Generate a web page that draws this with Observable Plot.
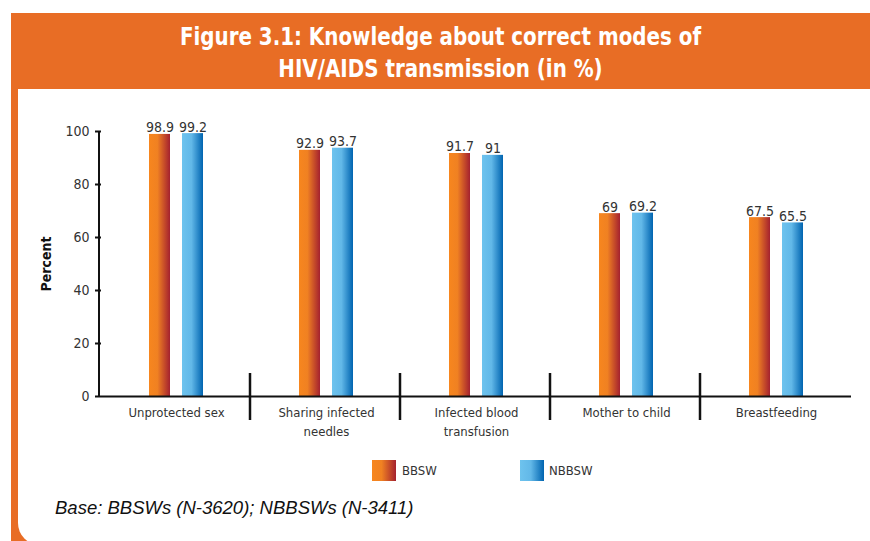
<!DOCTYPE html>
<html><head><meta charset="utf-8">
<script src="https://cdn.jsdelivr.net/npm/d3@7"></script>
<script src="https://cdn.jsdelivr.net/npm/@observablehq/plot@0.6"></script>
<style>
body{margin:0;background:#fff;}
#wrap{position:relative;width:870px;height:541px;overflow:hidden;font-family:"DejaVu Sans Condensed","Liberation Sans Narrow",sans-serif;}
#frame{position:absolute;left:11px;top:13px;width:900px;height:600px;background:#E86D25;}
#panel{position:absolute;left:18px;top:89px;width:900px;height:456px;background:#fff;border-bottom-left-radius:22px;}
#title{position:absolute;left:11px;top:13px;width:859px;height:76px;padding-top:8px;box-sizing:border-box;text-align:center;color:#fff;font-weight:bold;font-size:24px;line-height:32px;transform:scaleX(0.92);transform-origin:50% 50%;}
#chart{position:absolute;left:0;top:89px;}
#yline{position:absolute;background:#111;width:2px;}
#legend{position:absolute;top:460px;left:0;width:870px;height:22px;font-size:13px;color:#333;}
.sw{position:absolute;top:0;width:24px;height:21px;}
.lt{position:absolute;top:3px;}
#caption{position:absolute;left:55px;top:497px;font-family:"Liberation Sans",Arial,sans-serif;font-style:italic;font-size:18.5px;color:#111;}
svg [aria-label="y-axis label"] text{font-weight:bold;fill:#111;}
</style>
</head><body>
<div id="wrap">
  <div id="frame"></div>
  <div id="panel"></div>
  <div id="title">Figure 3.1: Knowledge about correct modes of<br>HIV/AIDS transmission (in %)</div>
  <div id="chart"></div>
  <div id="yline"></div>
  <div id="legend">
    <div class="sw" style="left:372px;background:linear-gradient(to right,#F7861E 0%,#F08122 40%,#A4212F 100%);"></div>
    <div class="lt" style="left:402px;">BBSW</div>
    <div class="sw" style="left:520px;background:linear-gradient(to right,#6EC3EE 0%,#62B8E8 45%,#0064B0 100%);"></div>
    <div class="lt" style="left:549px;">NBBSW</div>
  </div>
  <div id="caption">Base: BBSWs (N-3620); NBBSWs (N-3411)</div>
</div>
<script>
const categories = ["Unprotected sex","Sharing infected needles","Infected blood transfusion","Mother to child","Breastfeeding"];
const tickLabels = ["Unprotected sex","Sharing infected\nneedles","Infected blood\ntransfusion","Mother to child","Breastfeeding"];
const series = ["BBSW","NBBSW"];
const bbsw = [98.9, 92.9, 91.7, 69, 67.5];
const nbbsw = [99.2, 93.7, 91, 69.2, 65.5];
const yTicks = [0, 20, 40, 60, 80, 100];

const rows = categories.flatMap((c, i) => [
  {category: c, series: series[0], value: bbsw[i]},
  {category: c, series: series[1], value: nbbsw[i]}
]);

const FONT = '"DejaVu Sans Condensed","Liberation Sans Narrow",sans-serif';
const W = 870, H = 360, mL = 99, mR = 18, mT = 42, mB = 53;

const plot = Plot.plot({
  width: W, height: H,
  marginLeft: mL, marginRight: mR, marginTop: mT, marginBottom: mB,
  style: {background: "transparent", fontFamily: FONT, fontSize: "14px", color: "#333", overflow: "visible"},
  fx: {domain: categories, padding: 0, label: null, axis: null},
  x: {domain: series, paddingInner: 0.353, paddingOuter: 1.39, axis: null},
  y: {domain: [0, 100], axis: null},
  color: {domain: series, range: ["url(#gradBBSW)", "url(#gradNBBSW)"]},
  marks: [
    Plot.barY(rows, {fx: "category", x: "series", y: "value", fill: "series"}),
    Plot.text(rows, {fx: "category", x: "series", y: "value", text: d => String(d.value), lineAnchor: "bottom", dy: -2, fill: "#333", fontSize: 14}),
    Plot.ruleY([0], {stroke: "#111", strokeWidth: 2}),
    Plot.axisY({ticks: yTicks, tickSize: 6, tickPadding: 6, stroke: "#111", strokeWidth: 2, fill: "#333", fontSize: 14,
      label: "Percent", labelAnchor: "center", labelArrow: "none", labelOffset: 60}),
    Plot.axisFx({anchor: "bottom", tickSize: 0, tickPadding: 8, fill: "#333", fontSize: 13, label: null, lineHeight: 1.4,
      tickFormat: c => tickLabels[categories.indexOf(c)]})
  ]
});

const svg = d3.select(plot);
const defs = svg.insert("defs", ":first-child");
const g1 = defs.append("linearGradient").attr("id", "gradBBSW").attr("x1", "0").attr("x2", "1").attr("y1", "0").attr("y2", "0");
[["0%", "#F7861E"], ["40%", "#F08122"], ["100%", "#A4212F"]].forEach(([o, c]) => g1.append("stop").attr("offset", o).attr("stop-color", c));
const g2 = defs.append("linearGradient").attr("id", "gradNBBSW").attr("x1", "0").attr("x2", "1").attr("y1", "0").attr("y2", "0");
[["0%", "#6EC3EE"], ["45%", "#62B8E8"], ["100%", "#0064B0"]].forEach(([o, c]) => g2.append("stop").attr("offset", o).attr("stop-color", c));

// axis line and group separators, positioned through Plot's own scales
const fxS = plot.scale("fx"), yS = plot.scale("y");
const y0 = yS.apply(0), y100 = yS.apply(100);
const xLeft = fxS.range[0];
svg.append("rect").attr("x", xLeft - 1).attr("y", y100).attr("width", 2).attr("height", y0 - y100 + 1).attr("fill", "#111");
const lines = svg.append("g").attr("stroke", "#111").attr("fill", "none");
categories.slice(1).forEach(c => {
  const x = fxS.apply(c) - 1;
  lines.append("line").attr("x1", x).attr("x2", x).attr("y1", y0 - 23).attr("y2", y0 + 24).attr("stroke-width", 2.5);
});

document.getElementById("chart").appendChild(plot);
// same axis line as an HTML overlay, placed from the scale values
const yl = document.getElementById("yline");
yl.style.left = (xLeft - 1) + "px";
yl.style.top = (89 + y100) + "px";
yl.style.height = (y0 - y100 + 1) + "px";
</script>
</body></html>
